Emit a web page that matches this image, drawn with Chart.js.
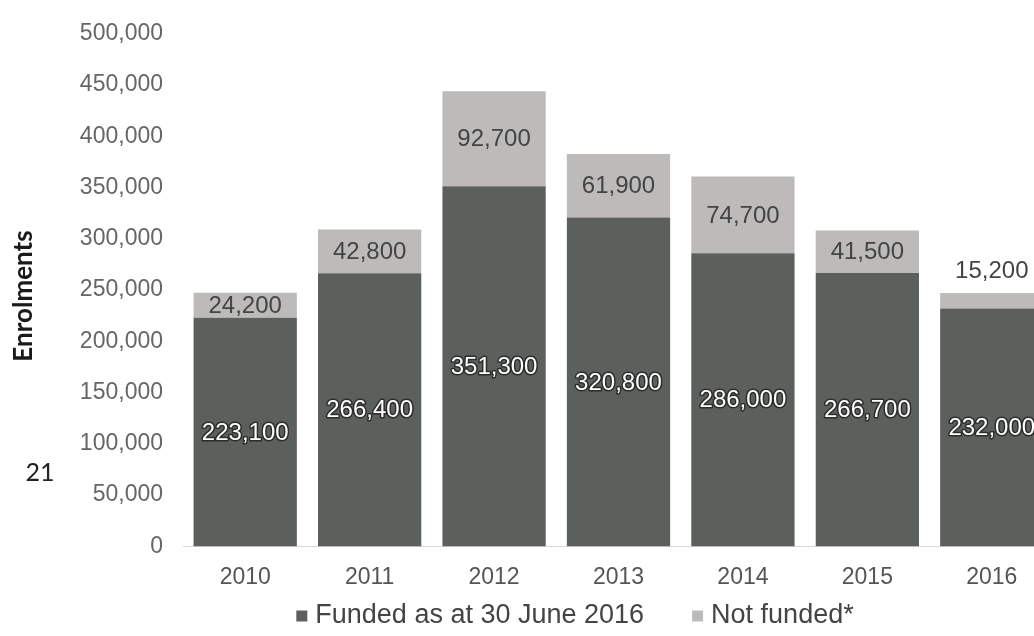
<!DOCTYPE html>
<html>
<head>
<meta charset="utf-8">
<script src="https://cdn.jsdelivr.net/npm/chart.js@4"></script>
<style>
  html, body { margin: 0; padding: 0; background: #fff; overflow: hidden; }
  #wrap { width: 1096px; height: 636px; }
</style>
</head>
<body>
<div id="wrap"><canvas id="chart" width="1096" height="636"></canvas></div>
<script>
// Enrolments by year, funded vs not funded
const years = ['2010', '2011', '2012', '2013', '2014', '2015', '2016'];
const funded = [223100, 266400, 351300, 320800, 286000, 266700, 232000];
const notFunded = [24200, 42800, 92700, 61900, 74700, 41500, 15200];
const yTicks = [0, 50000, 100000, 150000, 200000, 250000, 300000, 350000, 400000, 450000, 500000];

const DARK = '#5c605c';
const LIGHT = '#bdbaba';
const FONT = '"Liberation Sans", Arial, sans-serif';

const fmt = (v) => v.toLocaleString('en-US');

// draws the numbers on the bars (no datalabels plugin available offline)
const barLabels = {
    id: 'barLabels',
    afterDatasetsDraw(chart) {
        const ctx = chart.ctx;
        ctx.save();
        ctx.font = '24px ' + FONT;
        ctx.textAlign = 'center';
        ctx.textBaseline = 'middle';
        chart.data.datasets.forEach((ds, di) => {
            chart.getDatasetMeta(di).data.forEach((bar, i) => {
                const v = ds.data[i];
                const h = Math.abs(bar.base - bar.y);
                let y = (bar.y + bar.base) / 2 + 1;
                if (di === 0) {
                    ctx.lineWidth = 3;
                    ctx.lineJoin = 'round';
                    ctx.strokeStyle = 'rgba(35,37,35,0.85)';
                    ctx.strokeText(fmt(v), bar.x, y);
                    ctx.fillStyle = '#ffffff';
                } else {
                    if (h < 20) y = bar.y - 22;
                    ctx.fillStyle = '#444';
                }
                ctx.fillText(fmt(v), bar.x, y);
            });
        });
        ctx.restore();
    }
};

// legend drawn by hand so the items can sit far apart on one short row
const bottomLegend = {
    id: 'bottomLegend',
    afterDraw(chart) {
        const ctx = chart.ctx;
        const gap = 48, box = 11, textGap = 8, cy = 616, centre = 575;
        ctx.save();
        ctx.font = '27px ' + FONT;
        ctx.textBaseline = 'middle';
        const items = chart.data.datasets.map(ds => ({
            text: ds.label, color: ds.backgroundColor, w: box + textGap + ctx.measureText(ds.label).width
        }));
        const total = items.reduce((s, it) => s + it.w, 0) + gap * (items.length - 1);
        let x = centre - total / 2;
        items.forEach(it => {
            ctx.fillStyle = it.color;
            ctx.fillRect(x, cy - box / 2, box, box);
            ctx.fillStyle = '#444';
            ctx.fillText(it.text, x + box + textGap, cy);
            x += it.w + gap;
        });
        ctx.restore();
    }
};

// axis title and the stray page number from the scan
const sideText = {
    id: 'sideText',
    afterDraw(chart) {
        const ctx = chart.ctx;
        ctx.save();
        ctx.fillStyle = '#1a1a1a';
        ctx.textAlign = 'center';
        ctx.textBaseline = 'middle';
        ctx.font = 'bold 26px Lato, "Open Sans", sans-serif';
        ctx.translate(24, 296);
        ctx.rotate(-Math.PI / 2);
        ctx.fillText('Enrolments', 0, 0);
        ctx.restore();
        ctx.save();
        ctx.fillStyle = '#222';
        ctx.font = '25px Lato, "Open Sans", sans-serif';
        ctx.textAlign = 'center';
        ctx.textBaseline = 'middle';
        ctx.fillText('21', 40, 473);
        ctx.restore();
    }
};

new Chart(document.getElementById('chart'), {
    type: 'bar',
    data: {
        labels: years,
        datasets: [
            { label: 'Funded as at 30 June 2016', data: funded, backgroundColor: DARK },
            { label: 'Not funded*', data: notFunded, backgroundColor: LIGHT }
        ]
    },
    options: {
        responsive: false,
        animation: false,
        layout: { padding: { top: 18, right: 42, left: 0, bottom: 36 } },
        datasets: { bar: { barPercentage: 1, categoryPercentage: 0.83 } },
        plugins: {
            legend: { display: false },
            tooltip: { enabled: false }
        },
        scales: {
            x: {
                stacked: true,
                grid: { display: false },
                border: { color: '#d8d8d8', width: 1 },
                ticks: { color: '#555', padding: 9, font: { family: FONT, size: 23 } }
            },
            y: {
                stacked: true,
                min: 0,
                max: 500000,
                afterFit: (scale) => { scale.width = 183; },
                afterBuildTicks: (scale) => { scale.ticks = yTicks.map(v => ({ value: v })); },
                grid: { display: false, drawTicks: false },
                border: { display: false },
                ticks: {
                    color: '#666',
                    padding: 20,
                    font: { family: FONT, size: 23 },
                    callback: (v) => fmt(v)
                }
            }
        }
    },
    plugins: [barLabels, bottomLegend, sideText]
});
</script>
</body>
</html>
